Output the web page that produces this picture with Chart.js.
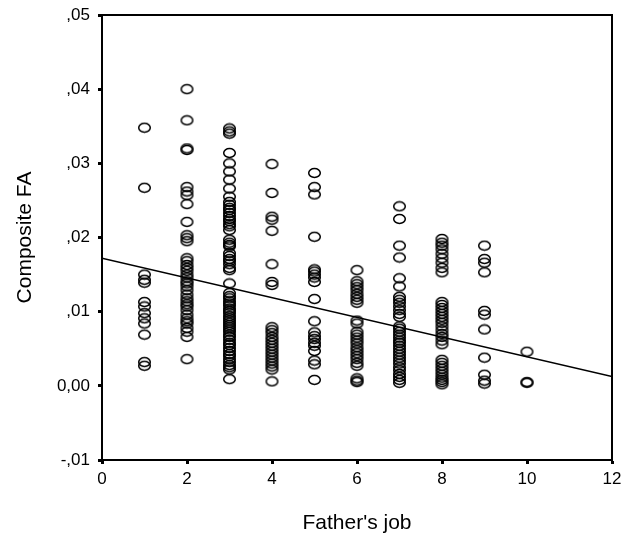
<!DOCTYPE html>
<html>
<head>
<meta charset="utf-8">
<script src="https://cdn.jsdelivr.net/npm/chart.js@4.4.1/dist/chart.umd.min.js"></script>
<style>
  html, body { margin: 0; padding: 0; background: #fff; }
  #wrap { width: 623px; height: 540px; }
</style>
</head>
<body>
<div id="wrap"><canvas id="myChart"></canvas></div>
<script>
// Father's job (x) categories with Composite FA values
const job1 = [0.0348, 0.0267, 0.0150, 0.0143, 0.0139, 0.0113, 0.0107, 0.0098, 0.0091, 0.0084, 0.0069, 0.0032, 0.0027];
const job2 = [0.0400, 0.0358, 0.0320, 0.0318, 0.0268, 0.0262, 0.0257, 0.0245, 0.0221, 0.0203, 0.0199, 0.0195,
  0.0172, 0.0168, 0.0163, 0.0159, 0.0155, 0.0150, 0.0146, 0.0141, 0.0138, 0.0134, 0.0129, 0.0123, 0.0118,
  0.0114, 0.0110, 0.0107, 0.0102, 0.0096, 0.0091, 0.0087, 0.0084, 0.0078, 0.0073, 0.0066, 0.0036];
const job3 = [0.0347, 0.0343, 0.0340, 0.0314, 0.0300, 0.0289, 0.0278, 0.0266, 0.0255, 0.0248, 0.0244, 0.0240,
  0.0237, 0.0233, 0.0229, 0.0225, 0.0222, 0.0218, 0.0215, 0.0210, 0.0197, 0.0193, 0.0190, 0.0188, 0.0179,
  0.0175, 0.0171, 0.0168, 0.0164, 0.0159, 0.0156, 0.0138, 0.0125, 0.0121, 0.0118, 0.0114, 0.0111, 0.0108,
  0.0104, 0.0101, 0.0098, 0.0094, 0.0091, 0.0088, 0.0085, 0.0082, 0.0079, 0.0076, 0.0073, 0.0069, 0.0066,
  0.0062, 0.0058, 0.0055, 0.0051, 0.0047, 0.0043, 0.0040, 0.0036, 0.0032, 0.0028, 0.0025, 0.0022, 0.0009];
const job4 = [0.0299, 0.0260, 0.0228, 0.0224, 0.0209, 0.0164, 0.0140, 0.0136, 0.0079, 0.0075, 0.0071, 0.0066,
  0.0062, 0.0058, 0.0054, 0.0050, 0.0046, 0.0042, 0.0038, 0.0034, 0.0030, 0.0026, 0.0022, 0.0006];
const job5 = [0.0287, 0.0268, 0.0258, 0.0201, 0.0157, 0.0154, 0.0150, 0.0146, 0.0140, 0.0117, 0.0087, 0.0072,
  0.0067, 0.0063, 0.0058, 0.0054, 0.0047, 0.0034, 0.0029, 0.0008];
const job6 = [0.0156, 0.0141, 0.0137, 0.0133, 0.0129, 0.0124, 0.0120, 0.0116, 0.0112, 0.0088, 0.0084, 0.0073,
  0.0069, 0.0065, 0.0061, 0.0057, 0.0052, 0.0048, 0.0044, 0.0040, 0.0036, 0.0031, 0.0027, 0.0010, 0.0007, 0.0005];
const job7 = [0.0242, 0.0225, 0.0189, 0.0173, 0.0145, 0.0134, 0.0120, 0.0116, 0.0112, 0.0107, 0.0102, 0.0097,
  0.0093, 0.0080, 0.0077, 0.0073, 0.0069, 0.0065, 0.0061, 0.0058, 0.0054, 0.0050, 0.0046, 0.0042, 0.0038,
  0.0034, 0.0030, 0.0025, 0.0021, 0.0016, 0.0012, 0.0008, 0.0004];
const job8 = [0.0198, 0.0193, 0.0189, 0.0184, 0.0178, 0.0172, 0.0166, 0.0159, 0.0153, 0.0113, 0.0109, 0.0105,
  0.0101, 0.0097, 0.0093, 0.0089, 0.0085, 0.0080, 0.0075, 0.0070, 0.0066, 0.0061, 0.0056, 0.0035, 0.0031,
  0.0027, 0.0023, 0.0019, 0.0015, 0.0011, 0.0008, 0.0005, 0.0002];
const job9 = [0.0189, 0.0171, 0.0166, 0.0153, 0.0101, 0.0096, 0.0076, 0.0038, 0.0015, 0.0007, 0.0003];
const job10 = [0.0046, 0.0005, 0.0004];

const jobCodes = [1, 2, 3, 4, 5, 6, 7, 8, 9, 10];
const faByJob = [job1, job2, job3, job4, job5, job6, job7, job8, job9, job10];

// fitted regression line end points
const fitX = [0, 12];
const fitY = [0.0172, 0.00125];

const xTicks = [0, 2, 4, 6, 8, 10, 12];
const yTicks = [-0.01, 0, 0.01, 0.02, 0.03, 0.04, 0.05];
const yTickLabels = ['-,01', '0,00', ',01', ',02', ',03', ',04', ',05'];

let points = [];
jobCodes.forEach((job, i) => {
  faByJob[i].forEach((v) => points.push({x: job, y: v}));
});
const fitLine = fitX.map((x, i) => ({x: x, y: fitY[i]}));

// open ellipse marker, a bit wider than tall like the original
const ring = document.createElement('canvas');
ring.width = 15;
ring.height = 12;
const rc = ring.getContext('2d');
rc.strokeStyle = '#000';
rc.lineWidth = 1.5;
rc.beginPath();
rc.ellipse(7.5, 6, 5.8, 4.4, 0, 0, Math.PI * 2);
rc.stroke();

const FONT = "'Liberation Sans', Arial, sans-serif";

const boxPlugin = {
  id: 'box',
  afterDraw(chart) {
    const a = chart.chartArea;
    const c = chart.ctx;
    c.save();
    c.strokeStyle = '#000';
    c.lineWidth = 2;
    c.beginPath();
    c.moveTo(a.left, a.top);
    c.lineTo(a.right, a.top);
    c.lineTo(a.right, a.bottom);
    c.stroke();
    c.restore();
  }
};

var ctx = document.getElementById('myChart').getContext('2d');

const config = {
  type: 'scatter',
  data: {
    datasets: [{
      label: 'Composite FA',
      data: points,
      pointStyle: ring,
      pointRadius: 6
    }, {
      type: 'line',
      label: 'Fit',
      data: fitLine,
      borderColor: '#000',
      borderWidth: 1.5,
      pointRadius: 0,
      fill: false
    }]
  },
  options: {
    responsive: true,
    maintainAspectRatio: false,
    animation: false,
    layout: { padding: { top: 15, right: 11, left: 0, bottom: 0 } },
    plugins: {
      legend: { display: false },
      tooltip: { enabled: false }
    },
    scales: {
      x: {
        type: 'linear',
        min: 0,
        max: 12,
        afterBuildTicks: (s) => { s.ticks = xTicks.map((v) => ({value: v})); },
        afterFit: (s) => { s.height = 80; s.paddingLeft = 0; s.paddingRight = 0; },
        grid: { drawOnChartArea: false, color: 'transparent', tickColor: '#000', tickLength: 4, tickWidth: 3 },
        border: { display: true, color: '#000', width: 2 },
        ticks: { color: '#000', font: { family: FONT, size: 17 }, padding: 5, maxRotation: 0 },
        title: {
          display: true,
          text: "Father's job",
          color: '#000',
          font: { family: FONT, size: 21 },
          padding: { top: 0, bottom: 4 }
        }
      },
      y: {
        type: 'linear',
        min: -0.01,
        max: 0.05,
        afterBuildTicks: (s) => { s.ticks = yTicks.map((v) => ({value: v})); },
        afterFit: (s) => { s.width = 102; s.paddingTop = 0; s.paddingBottom = 0; },
        grid: { drawOnChartArea: false, color: 'transparent', tickColor: '#000', tickLength: 4, tickWidth: 3 },
        border: { display: true, color: '#000', width: 2 },
        ticks: {
          color: '#000',
          font: { family: FONT, size: 17 },
          padding: 8,
          callback: (v, i) => yTickLabels[i]
        },
        title: {
          display: true,
          text: 'Composite FA',
          color: '#000',
          font: { family: FONT, size: 21 },
          padding: { top: 13, bottom: 0 }
        }
      }
    }
  },
  plugins: [boxPlugin]
};

var myChart = new Chart(ctx, config);
</script>
</body>
</html>
